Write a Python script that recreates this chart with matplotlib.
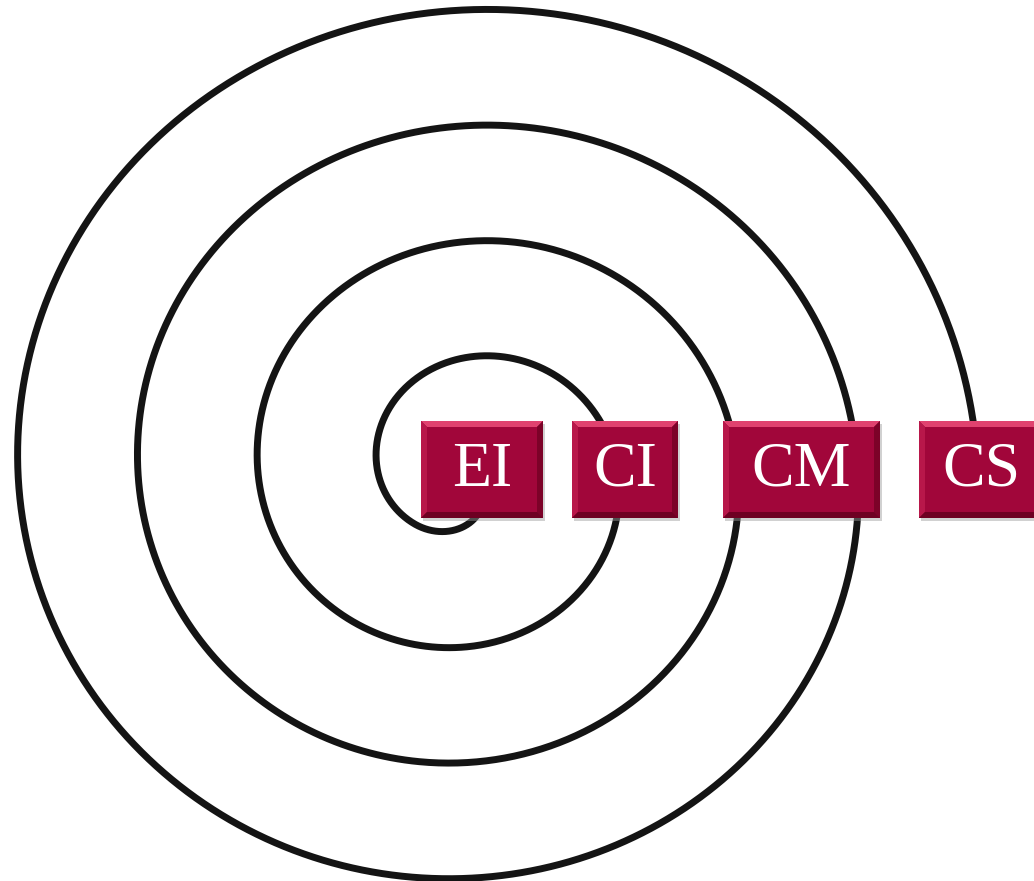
import numpy as np
import matplotlib
matplotlib.use("Agg")
import matplotlib.pyplot as plt
from matplotlib.patches import Rectangle, Polygon

# ---- data ----
labels = ["EI", "CI", "CM", "CS"]

# ---- geometry (pixel coordinates, y down) ----
W, H = 1034, 881
cx, cy = 468, 473          # spiral centre
r_left1 = 90               # radius at first left crossing
pitch = 120                # radial growth per turn
yscale = 0.965
phi_start, phi_end = 0.40 * np.pi, 8 * np.pi - 0.10

box_x = [(421, 543), (572, 678), (723, 880), (919, 1043)]
box_y = (421, 518)

fig = plt.figure(figsize=(W / 100, H / 100), dpi=100)
ax = fig.add_axes([0, 0, 1, 1])
ax.set_xlim(0, W)
ax.set_ylim(H, 0)
ax.axis("off")
fig.patch.set_facecolor("white")

phi = np.linspace(phi_start, phi_end, 3000)
r = r_left1 + pitch / (2 * np.pi) * (phi - np.pi)
# tighten the innermost hook so it tucks under the first box
t = np.clip((0.75 * np.pi - phi) / (0.35 * np.pi), 0, None)
r = r - 14 * t ** 2
x = cx + r * np.cos(phi)
y = cy + yscale * r * np.sin(phi)
ax.plot(x, y, color="#141414", lw=5.0, solid_capstyle="round", zorder=1)

bev = 6
for (x0, x1), lab in zip(box_x, labels):
    y0, y1 = box_y
    # shadow
    ax.add_patch(Rectangle((x0 + 2, y0 + 3), x1 - x0, y1 - y0,
                           facecolor="#9a9a9a", alpha=0.45, edgecolor="none", zorder=2))
    # base
    ax.add_patch(Rectangle((x0, y0), x1 - x0, y1 - y0,
                           facecolor="#8a0430", edgecolor="none", zorder=3))
    # bevels
    ax.add_patch(Polygon([(x0, y0), (x1, y0), (x1 - bev, y0 + bev), (x0 + bev, y0 + bev)],
                         closed=True, facecolor="#e0426f", edgecolor="none", zorder=4))
    ax.add_patch(Polygon([(x0, y0), (x0 + bev, y0 + bev), (x0 + bev, y1 - bev), (x0, y1)],
                         closed=True, facecolor="#b8174a", edgecolor="none", zorder=4))
    ax.add_patch(Polygon([(x1, y0), (x1, y1), (x1 - bev, y1 - bev), (x1 - bev, y0 + bev)],
                         closed=True, facecolor="#7c0228", edgecolor="none", zorder=4))
    ax.add_patch(Polygon([(x0, y1), (x1, y1), (x1 - bev, y1 - bev), (x0 + bev, y1 - bev)],
                         closed=True, facecolor="#6e0022", edgecolor="none", zorder=4))
    ax.add_patch(Rectangle((x0 + bev, y0 + bev), x1 - x0 - 2 * bev, y1 - y0 - 2 * bev,
                           facecolor="#a1063a", edgecolor="none", zorder=5))
    ax.text((x0 + x1) / 2, (y0 + y1) / 2 + 1, lab, color="white",
            family=["Liberation Serif", "DejaVu Serif"], fontsize=46,
            ha="center", va="center", zorder=6)

fig.savefig("out.png", dpi=100, facecolor="white")
